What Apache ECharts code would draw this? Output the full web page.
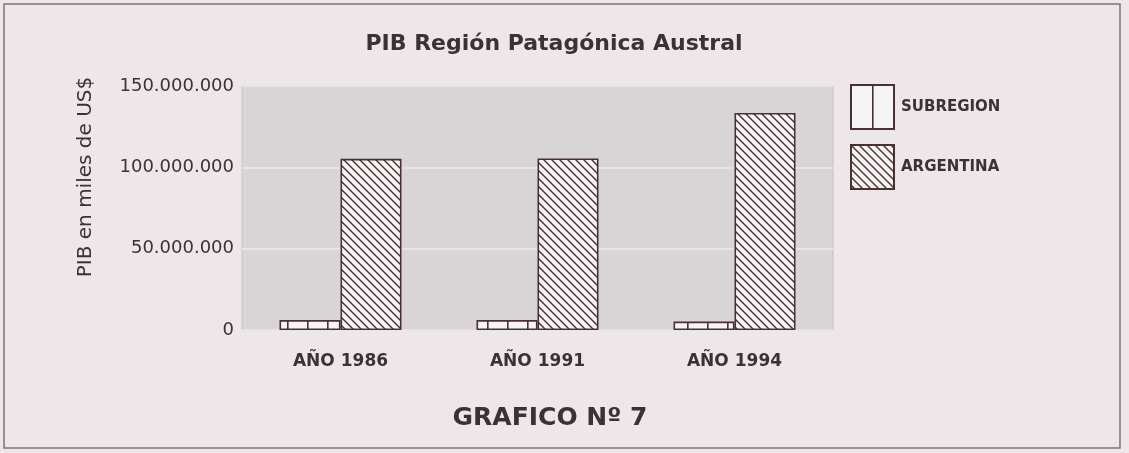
<!DOCTYPE html>
<html>
<head>
<meta charset="utf-8">
<script src="https://cdn.jsdelivr.net/npm/echarts@6/dist/echarts.min.js"></script>
<style>
  html, body { margin: 0; padding: 0; background: #ede7ea; }
  #main { width: 1129px; height: 453px; }
</style>
</head>
<body>
<div id="main"></div>
<script type="text/javascript">
    // datos (miles de US$)
    var categorias = ['AÑO 1986', 'AÑO 1991', 'AÑO 1994'];
    var subregion = [6100000, 6100000, 5200000];
    var argentina = [105200000, 105500000, 133400000];
    var yTicks = [0, 50000000, 100000000, 150000000];

    var ink = '#3b3136';
    var edge = '#4a2f33';

    // trama vertical (SUBREGION): ancho del motivo y posicion de la raya
    function rayasVerticales(w, pos) {
        var c = document.createElement('canvas');
        c.width = w; c.height = 20;
        var g = c.getContext('2d');
        g.fillStyle = '#f7f4f5';
        g.fillRect(0, 0, w, 20);
        g.fillStyle = edge;
        g.fillRect(pos, 0, 1.6, 20);
        return c;
    }
    // trama diagonal (ARGENTINA)
    function rayasDiagonales() {
        var s = 8;
        var c = document.createElement('canvas');
        c.width = s; c.height = s;
        var g = c.getContext('2d');
        g.fillStyle = '#f7f4f5';
        g.fillRect(0, 0, s, s);
        g.strokeStyle = edge;
        g.lineWidth = 1.4;
        g.beginPath();
        g.moveTo(-1, -1); g.lineTo(s + 1, s + 1);
        g.moveTo(-1, s - 1); g.lineTo(1, s + 1);
        g.moveTo(s - 1, -1); g.lineTo(s + 1, 1);
        g.stroke();
        return c;
    }

    var patSub = { image: rayasVerticales(20, 7), repeat: 'repeat' };
    var patSubLeyenda = { image: rayasVerticales(43, 21), repeat: 'repeat' };
    var patArg = { image: rayasDiagonales(), repeat: 'repeat' };

    var myChart = echarts.init(document.getElementById('main'));

    var option = {
        backgroundColor: '#ede7ea',
        textStyle: { fontFamily: 'DejaVu Sans', color: ink },
        title: {
            text: 'PIB Región Patagónica Austral',
            left: 549,
            textAlign: 'center',
            top: 28,
            textStyle: { fontFamily: 'DejaVu Sans', fontSize: 22, fontWeight: 'bold', color: ink }
        },
        legend: {
            orient: 'vertical',
            left: 850,
            top: 84,
            padding: 0,
            itemWidth: 43,
            itemHeight: 44,
            itemGap: 14,
            icon: 'rect',
            selectedMode: false,
            textStyle: { fontFamily: 'DejaVu Sans', fontSize: 15, fontWeight: 'bold', color: ink, padding: [0, 0, 0, 2] },
            data: [
                { name: 'SUBREGION', itemStyle: { color: patSubLeyenda } },
                { name: 'ARGENTINA' }
            ]
        },
        grid: {
            left: 242,
            right: 296,
            top: 86,
            bottom: 123,
            show: true,
            backgroundColor: '#d9d4d6',
            borderColor: '#c6c1c3',
            borderWidth: 1
        },
        xAxis: {
            type: 'category',
            data: categorias,
            axisLine: { show: false },
            axisTick: { show: false },
            axisLabel: {
                margin: 23,
                fontFamily: 'DejaVu Sans',
                fontSize: 17,
                fontWeight: 'bold',
                color: ink
            }
        },
        yAxis: {
            type: 'value',
            min: 0,
            max: 150000000,
            interval: 50000000,
            axisLine: { show: false },
            axisTick: { show: false },
            splitLine: { lineStyle: { color: '#eeeaec', width: 1.5 } },
            axisLabel: {
                margin: 8,
                padding: [6, 0, 0, 0],
                fontFamily: 'DejaVu Sans',
                fontSize: 18,
                color: ink,
                formatter: function (v) {
                    return yTicks.indexOf(v) < 0 ? '' :
                        String(v).replace(/\B(?=(\d{3})+(?!\d))/g, '.');
                }
            }
        },
        series: [{
            name: 'SUBREGION',
            type: 'bar',
            data: subregion,
            barWidth: 61,
            barGap: '0%',
            itemStyle: { color: patSub, borderColor: edge, borderWidth: 1.6 }
        }, {
            name: 'ARGENTINA',
            type: 'bar',
            data: argentina,
            barWidth: 61,
            itemStyle: { color: patArg, borderColor: edge, borderWidth: 1.6 }
        }],
        graphic: [{
            type: 'rect',
            shape: { x: 4, y: 4, width: 1116, height: 444 },
            style: { fill: 'none', stroke: '#7a7577', lineWidth: 1.5 },
            silent: true,
            z: -1
        }, {
            type: 'text',
            x: 86,
            y: 177,
            rotation: Math.PI / 2,
            style: {
                text: 'PIB en miles de US$',
                fontFamily: 'DejaVu Sans',
                fontSize: 20,
                fill: ink,
                align: 'center',
                verticalAlign: 'middle'
            }
        }, {
            type: 'text',
            x: 550,
            y: 418,
            style: {
                text: 'GRAFICO Nº 7',
                fontFamily: 'DejaVu Sans',
                fontSize: 25,
                fontWeight: 'bold',
                fill: ink,
                align: 'center',
                verticalAlign: 'middle'
            }
        }]
    };

    myChart.setOption(option);
</script>
</body>
</html>
